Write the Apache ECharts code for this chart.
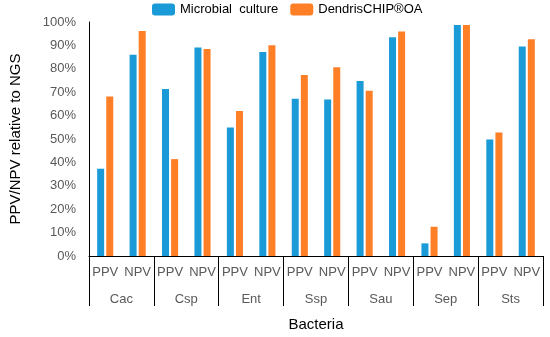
<!DOCTYPE html>
<html>
<head>
<meta charset="utf-8">
<script src="https://cdn.jsdelivr.net/npm/echarts@6/dist/echarts.min.js"></script>
<style>html,body{margin:0;padding:0;background:#fff}#c{width:550px;height:337px}</style>
</head>
<body>
<div id="c"></div>
<script>
const groups = ['Cac','Csp','Ent','Ssp','Sau','Sep','Sts'];
const subLabels = ['PPV','NPV'];
const seriesNames = ['Microbial culture','DendrisCHIP®OA'];
const culture = [37.3, 86.0, 71.4, 89.1, 54.9, 87.2, 67.2, 66.9, 74.8, 93.5, 5.4, 98.7, 49.8, 89.5];
const chip    = [68.2, 96.2, 41.4, 88.5, 62.0, 90.1, 77.3, 80.7, 70.6, 95.9, 12.5, 98.7, 52.8, 92.6];
const yTicks = [0,10,20,30,40,50,60,70,80,90,100];

const categories = [];
groups.forEach(g => subLabels.forEach(s => categories.push(s)));

const font = 'Liberation Sans, Arial, sans-serif';
const chart = echarts.init(document.getElementById('c'));
chart.setOption({
  animation: false,
  textStyle: {fontFamily: font},
  legend: {
    top: 3, left: 152, padding: 0,
    itemWidth: 23, itemHeight: 12, itemGap: 12,
    formatter: n => n.replace(' ', '  '),
    textStyle: {fontSize: 13, color: '#000', fontFamily: font},
    data: seriesNames
  },
  grid: {left: 86, right: 7, top: 22, bottom: 80},
  xAxis: [
    {
      type: 'category', data: categories, position: 'bottom',
      axisLine: {show: true, lineStyle: {color: '#000', width: 1}},
      axisTick: {show: false},
      axisLabel: {color: '#595959', fontSize: 13, margin: 10, fontFamily: font, interval: 0},
      name: 'Bacteria', nameLocation: 'middle', nameGap: 61,
      nameTextStyle: {color: '#000', fontSize: 15, fontFamily: font}
    },
    {
      type: 'category', data: groups, position: 'bottom',
      axisLine: {show: false},
      axisTick: {show: true, length: 50, lineStyle: {color: '#000', width: 1}},
      axisLabel: {color: '#595959', fontSize: 13, margin: 37, fontFamily: font, interval: 0}
    }
  ],
  yAxis: {
    type: 'value', min: 0, max: 100, interval: 10,
    axisLine: {show: true, lineStyle: {color: '#000', width: 1}},
    axisTick: {show: false},
    splitLine: {show: false},
    axisLabel: {color: '#595959', fontSize: 13, margin: 13, fontFamily: font,
      formatter: v => yTicks.includes(v) ? v + '%' : ''},
    name: 'PPV/NPV relative to NGS', nameLocation: 'middle', nameGap: 66,
    nameTextStyle: {color: '#000', fontSize: 15, fontFamily: font}
  },
  series: [
    {name: seriesNames[0], type: 'bar', data: culture, barWidth: 7, barGap: '30%',
     itemStyle: {color: '#1a9ad7'}},
    {name: seriesNames[1], type: 'bar', data: chip, barWidth: 7,
     itemStyle: {color: '#ff7f27'}}
  ]
});
</script>
</body>
</html>
